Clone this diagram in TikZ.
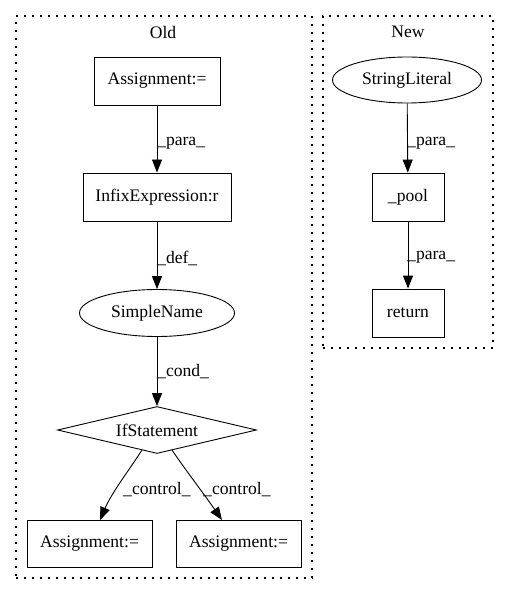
\documentclass[tikz,border=0pt]{standalone}
\usepackage{fontspec}
\setmainfont{Liberation Serif}
\usetikzlibrary{arrows.meta,shapes.geometric}
\begin{document}
\begin{tikzpicture}[x=1pt,y=-1pt,
  every node/.style={font=\fontsize{17.6}{20}\selectfont},
  box/.style={draw,line width=0.9pt,rectangle,minimum height=48pt,inner sep=0pt},
  oval/.style={draw,line width=0.9pt,ellipse,minimum height=47pt,inner sep=0pt},
  dia/.style={draw,line width=0.9pt,diamond,aspect=4.2,minimum width=199pt,minimum height=47pt,inner sep=0pt},
  edge/.style={draw,line width=0.9pt,-{Triangle[length=13pt,width=10pt]}},
  elabel/.style={anchor=west,inner sep=0pt},
  cluster/.style={draw,line width=1.4pt,dash pattern=on 2pt off 6pt}]
\useasboundingbox (0,0) rectangle (509,596);
% clusters
\node[cluster,minimum width=296pt,minimum height=562pt,inner sep=0pt] (old) at (164,297) {};
\node[cluster,minimum width=170pt,minimum height=332pt,inner sep=0pt] (new) at (408,182) {};
\node (oldt) at (163,32) {Old};
\node (newt) at (408,32) {New};
% Old nodes
\node[box,minimum width=126pt] (a1) at (157,81) {Assignment:=};
\node[box,minimum width=148pt] (inf) at (157,197) {InfixExpression:r};
\node[oval,minimum width=155pt] (sn) at (157,313) {SimpleName};
\node[dia] (ifs) at (157,430) {IfStatement};
\node[box,minimum width=125pt,minimum height=47pt] (a2) at (89.5,544) {Assignment:=};
\node[box,minimum width=125pt,minimum height=47pt] (a3) at (238.5,544) {Assignment:=};
% New nodes
\node[oval,minimum width=149pt,minimum height=46pt] (sl) at (407,80) {StringLiteral};
\node[box,minimum width=72pt] (pool) at (408,197) {\_pool};
\node[box,minimum width=72pt] (ret) at (408,313) {return};
% edges
\draw[edge] (a1) -- (inf);
\draw[edge] (inf) -- (sn);
\draw[edge] (sn) -- (ifs);
\coordinate (c1) at (142,450);
\coordinate (c2) at (172,450);
\draw[edge] (c1) .. controls (132,466) and (112,492) .. (a2.north -| 100,0);
\draw[edge] (c2) .. controls (184,468) and (204,494) .. (a3.north -| 222,0);
\draw[edge] (sl) -- (pool);
\draw[edge] (pool) -- (ret);
% edge labels
\node[elabel] (l1) at (157,143) {\_para\_};
\node[elabel] (l2) at (157,258) {\_def\_};
\node[elabel] (l3) at (157,372) {\_cond\_};
\node[elabel] (l4) at (123,490) {\_control\_};
\node[elabel] (l5) at (203,490) {\_control\_};
\node[elabel] (l6) at (407,143) {\_para\_};
\node[elabel] (l7) at (407,257) {\_para\_};
\end{tikzpicture}
\end{document}
